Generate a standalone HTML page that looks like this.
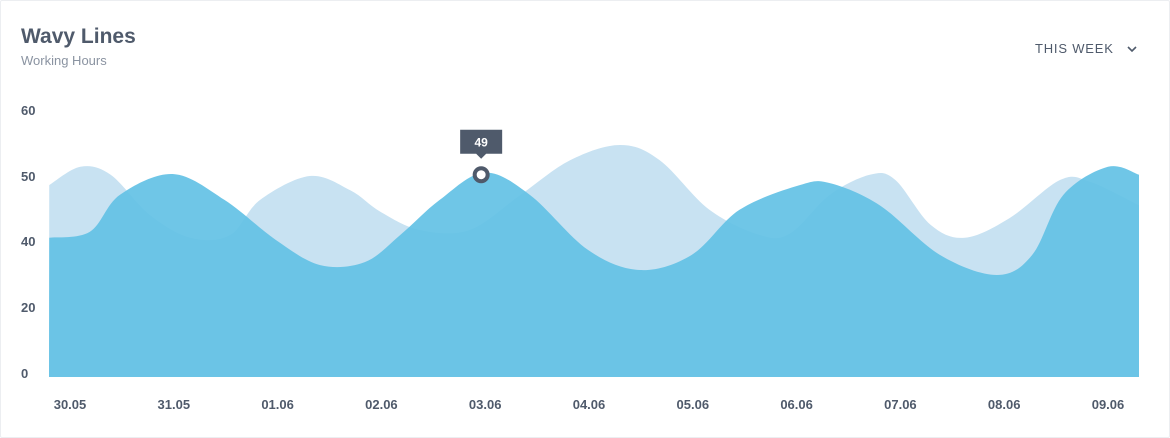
<!DOCTYPE html>
<html><head><meta charset="utf-8"><style>
body{margin:0;width:1170px;height:438px;background:#fff;font-family:"Liberation Sans",sans-serif;overflow:hidden;position:relative}
.card{position:absolute;left:0;top:0;width:1168px;height:436px;border:1px solid #eceef1;border-radius:2px}
h1{position:absolute;left:21px;top:25px;margin:0;font-size:21px;font-weight:bold;color:#4f5a6b}
.sub{position:absolute;left:21px;top:53px;font-size:13px;color:#8a93a1}
.wk{position:absolute;left:1035px;top:41px;font-size:13px;letter-spacing:0.8px;color:#4f5a6b}
svg{position:absolute;left:0;top:0}
</style></head><body>
<div class="card"></div>
<h1>Wavy Lines</h1>
<div class="sub">Working Hours</div>
<div class="wk">THIS WEEK &nbsp;&nbsp;<svg width="10" height="7" style="position:static;vertical-align:middle" viewBox="0 0 10 7"><path d="M1 1l4 4 4-4" stroke="#4f5a6b" stroke-width="1.6" fill="none"/></svg></div>
<svg id="chart" width="1170" height="438"></svg>
<script>
const categories=["30.05","31.05","01.06","02.06","03.06","04.06","05.06","06.06","07.06","08.06","09.06"];
const yTicks=[0,20,40,50,60];
const lightX=[-0.2,0.1,0.39,0.77,1.16,1.54,1.83,2.31,2.7,2.99,3.37,3.85,4.34,4.82,5.3,5.68,6.16,6.65,6.94,7.32,7.71,7.95,8.29,8.62,9.05,9.54,9.83,10.3];
const lightY=[48.6,51.4,50.2,44.0,40.5,40.9,46.3,50,47.8,44.5,41.7,41.7,47.1,52.4,54.7,52.4,44.8,40.9,41.2,47.1,50.2,49.4,42.5,40.5,43.5,49.4,49.1,45.5];
const darkX=[-0.2,0.19,0.48,0.99,1.49,1.98,2.41,2.84,3.18,3.56,3.99,4.43,4.99,5.49,5.99,6.45,7.03,7.32,7.8,8.38,8.93,9.27,9.57,10.0,10.3];
const darkY=[40.5,41.4,47.1,50.3,46.3,40.2,32.7,33.6,40.9,46.3,50.5,47.1,37.3,31.2,35.8,44.8,48.6,48.9,45.5,35.8,29.7,35.8,47.1,51.4,50.2];
const highlightIndex=10, highlightValue=49;
const svg=document.getElementById('chart'),NS='http://www.w3.org/2000/svg';
const x0=49,x1=1139,base=377;
const xs=i=>70+i*103.8;
const tickPix=[373,307,241,176,110];
function ys(v){for(let k=0;k<yTicks.length-1;k++){if(v<=yTicks[k+1]||k==yTicks.length-2){const t=(v-yTicks[k])/(yTicks[k+1]-yTicks[k]);return tickPix[k]+t*(tickPix[k+1]-tickPix[k]);}}}
function el(t,a){const e=document.createElementNS(NS,t);for(const k in a)e.setAttribute(k,a[k]);svg.appendChild(e);return e;}
function area(X,Y,fill,name){const p=X.map((x,i)=>[Math.min(x1,Math.max(x0,xs(x))),ys(Y[i])]);
let d=`M${x0},${base}L${p[0][0]},${p[0][1]}`;
for(let i=0;i<p.length-1;i++){const a=p[Math.max(0,i-1)],b=p[i],c=p[i+1],e=p[Math.min(p.length-1,i+2)];
d+=`C${b[0]+(c[0]-a[0])/6},${b[1]+(c[1]-a[1])/6} ${c[0]-(e[0]-b[0])/6},${c[1]-(e[1]-b[1])/6} ${c[0]},${c[1]}`;}
d+=`L${x1},${base}Z`;const e=el('path',{d,fill});

}
area(lightX,lightY,'#c8e2f2','area-series-light');
area(darkX,darkY,'rgba(100,194,229,0.93)','area-series-dark');
yTicks.forEach((v,i)=>{const t=el('text',{x:21,y:ys(v)+5,'font-size':13,fill:'#4f5a6b','font-weight':'bold'});t.textContent=v;

});
categories.forEach((c,i)=>{const t=el('text',{x:xs(i),y:409,'font-size':13,fill:'#4f5a6b','text-anchor':'middle','font-weight':'bold'});t.textContent=c;

});
const hx=xs(darkX[highlightIndex])-3,hy=ys(darkY[highlightIndex])+2;
const m=el('circle',{cx:hx,cy:hy,r:6.5,fill:'#fff',stroke:'#4f5a6b','stroke-width':4});


const tp=el('path',{d:`M${hx-21},${hy-45}h42v24h-16l-5,5-5,-5h-16z`,fill:'#4f5a6b'});


const tt=el('text',{x:hx,y:hy-28,'font-size':12,'font-weight':'bold',fill:'#fff','text-anchor':'middle'});tt.textContent=highlightValue;


</script>
</body></html>
